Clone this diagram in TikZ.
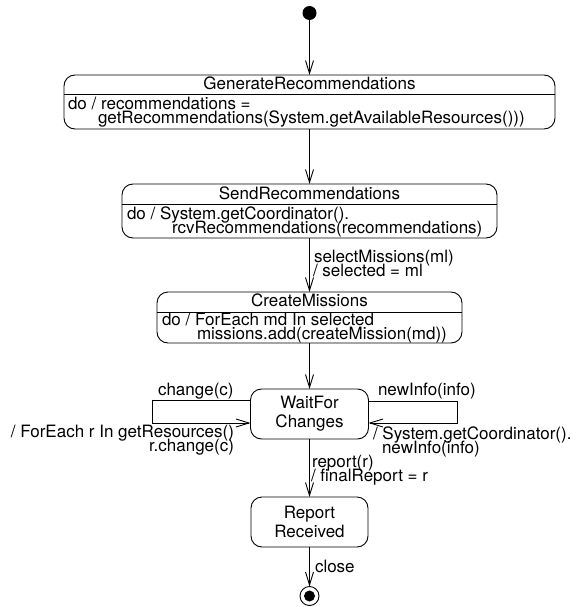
\documentclass[tikz,border=0pt]{standalone}
\usepackage{fontspec}
\setmainfont{TeX Gyre Heros}
\usetikzlibrary{arrows.meta,calc}
\begin{document}
\begin{tikzpicture}[x=1pt,y=-1pt,
  line width=0.9pt,
  every node/.style={inner sep=0pt,outer sep=0pt,font=\fontsize{17}{19}\selectfont},
  statebox/.style={draw,rounded corners=11pt},
  txt/.style={anchor=base west},
  rtxt/.style={anchor=base east},
  ctr/.style={anchor=base},
  trans/.style={-{Straight Barb[length=13pt,width=8pt]}}]
\useasboundingbox (0,0) rectangle (581,607);

% initial and final pseudo-states
\node[circle,fill=black,minimum size=14pt] (init) at (309.5,13) {};
\node[circle,draw,minimum size=19pt] (fin) at (309.5,596) {};
\node[circle,fill=black,minimum size=11pt] (finin) at (309.5,596) {};

% states with an activity compartment
\node[statebox,minimum width=491pt,minimum height=54pt] (gen) at (309.5,102) {};
\draw ($(gen.north west)+(0,19)$) -- ($(gen.north east)+(0,19)$);
\node[ctr] (genh) at (309.5,90) {GenerateRecommendations};
\node[txt] (gen1) at (68,110) {do / recommendations =};
\node[txt] (gen2) at (98,124) {getRecommendations(System.getAvailableResources()))};

\node[statebox,minimum width=375pt,minimum height=54pt] (send) at (309.5,211) {};
\draw ($(send.north west)+(0,20)$) -- ($(send.north east)+(0,20)$);
\node[ctr] (sendh) at (309.5,199) {SendRecommendations};
\node[txt] (send1) at (127,219) {do / System.getCoordinator().};
\node[txt] (send2) at (172,233) {rcvRecommendations(recommendations)};

\node[statebox,minimum width=305pt,minimum height=51pt] (create) at (309.5,317.5) {};
\draw ($(create.north west)+(0,20)$) -- ($(create.north east)+(0,20)$);
\node[ctr] (createh) at (309.5,306) {CreateMissions};
\node[txt] (create1) at (162,325) {do / ForEach md In selected};
\node[txt] (create2) at (197,339) {missions.add(createMission(md))};

% simple states
\node[statebox,minimum width=118pt,minimum height=50pt,align=center]
  (wait) at (309.5,414) {WaitFor\\Changes};
\node[statebox,minimum width=117pt,minimum height=50pt,align=center]
  (report) at (309.5,522) {Report\\Received};

% transitions down the main column
\draw[trans] (init) -- (gen.north);
\draw[trans] (gen.south) -- (send.north);
\draw[trans] (send.south) -- (create.north);
\node[txt] (sel1) at (314,262) {selectMissions(ml)};
\node[txt] (sel2) at (313,276) {/ selected = ml};
\draw[trans] (create.south) -- (wait.north);
\draw[trans] (wait.south) -- (report.north);
\node[txt] (rep1) at (312,467) {report(r)};
\node[txt] (rep2) at (311,481) {/ finalReport = r};
\draw[trans] (report.south) -- (fin.north);
\node[txt] (cls) at (315,572) {close};

% self transition on the left
\coordinate (lu) at (152,400);
\coordinate (ll) at (152,423);
\draw[trans] (wait.west |- lu) -- (lu) -- (ll) -- (wait.west |- ll);
\node[txt] (chg) at (158,395) {change(c)};
\node[rtxt] (chg1) at (234,437) {/ ForEach r In getResources()};
\node[rtxt] (chg2) at (234,451) {r.change(c)};

% self transition on the right
\coordinate (ru) at (457,401);
\coordinate (rl) at (457,423);
\draw[trans] (wait.east |- ru) -- (ru) -- (rl) -- (wait.east |- rl);
\node[txt] (inf) at (378,395) {newInfo(info)};
\node[txt] (inf1) at (373,439) {/ System.getCoordinator().};
\node[txt] (inf2) at (382,453) {newInfo(info)};
\end{tikzpicture}
\end{document}
